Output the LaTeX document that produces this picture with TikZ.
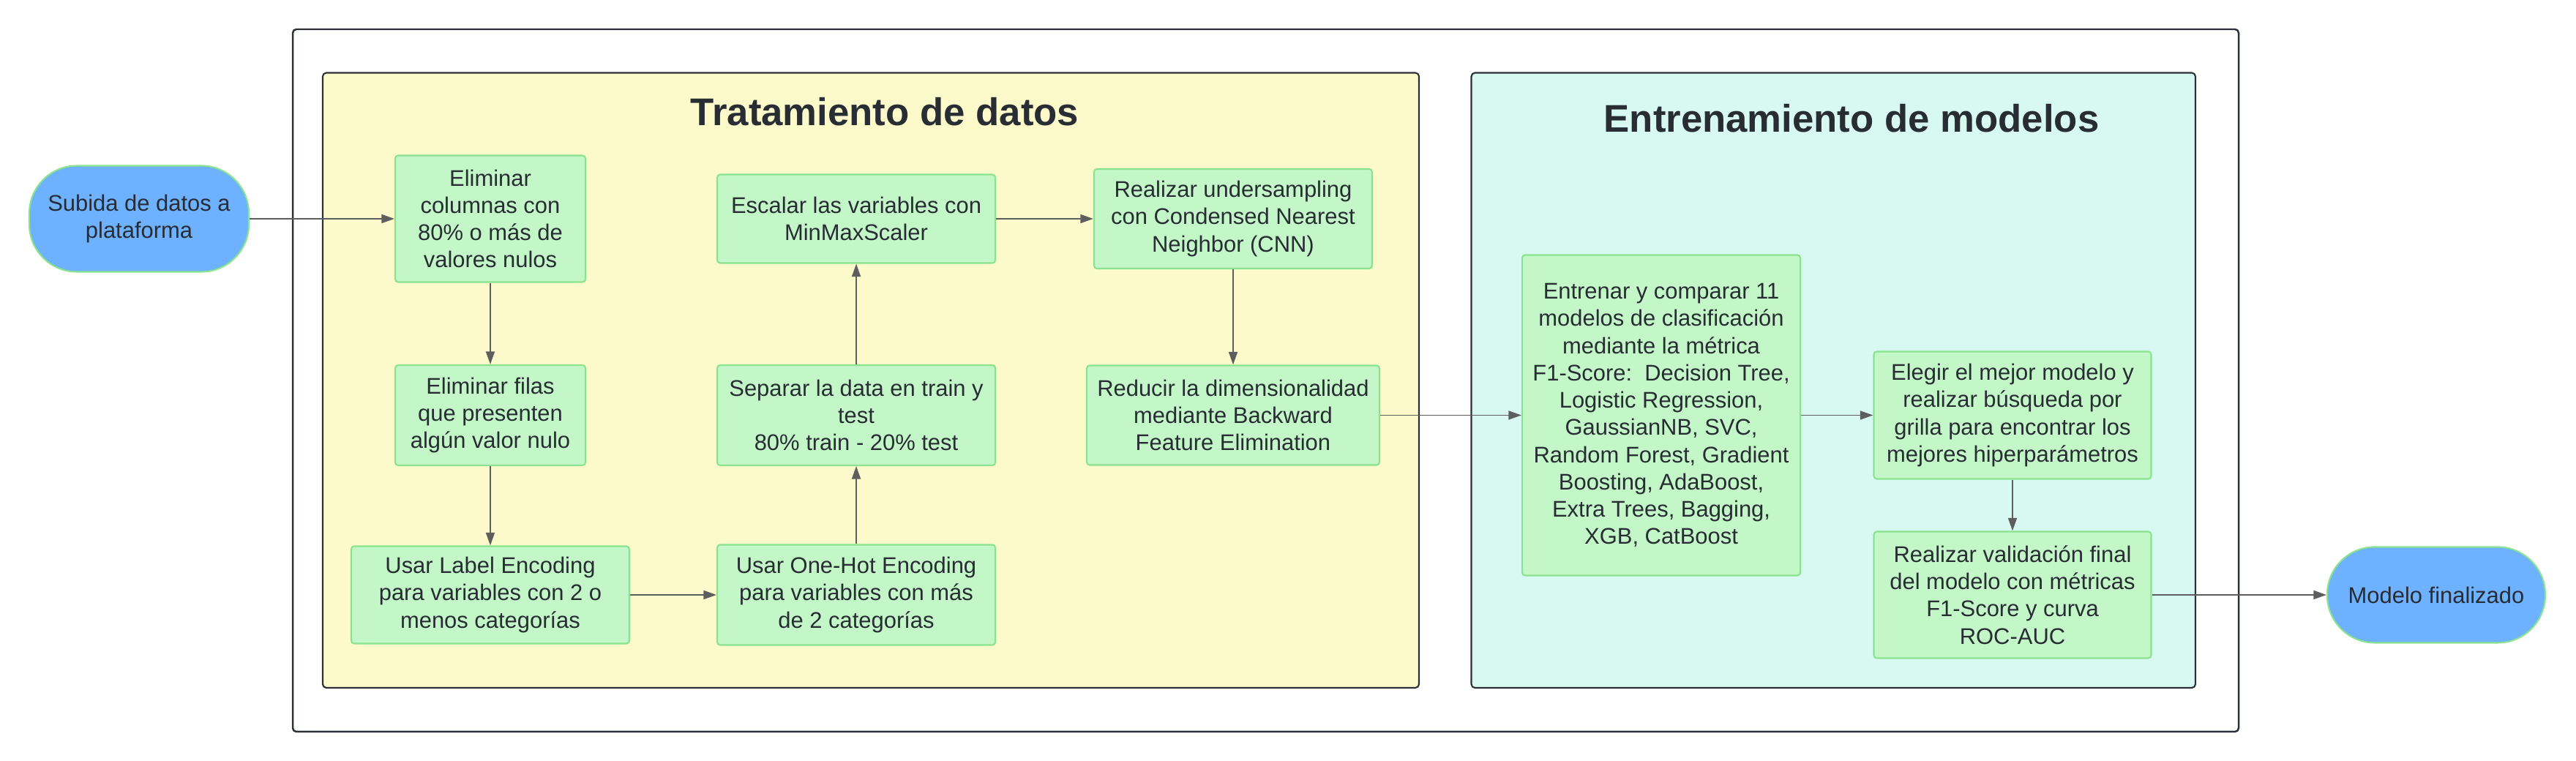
\documentclass[tikz,border=0pt]{standalone}
\usepackage{fontspec}
\setmainfont{Liberation Sans}
\usepackage{tikz}
\usetikzlibrary{calc,arrows.meta}

\definecolor{frameline}{HTML}{2B2F36}
\definecolor{textcol}{HTML}{282C33}
\definecolor{arrowcol}{HTML}{5E5E5E}
\definecolor{boxfill}{HTML}{C3F7C8}
\definecolor{boxline}{HTML}{8AE38F}
\definecolor{termfill}{HTML}{6DB1FF}
\definecolor{datosfill}{HTML}{FCFACA}
\definecolor{modelosfill}{HTML}{D7F9F2}

\newcommand{\boxfont}{\fontsize{8.8}{10.6}\selectfont}
\newcommand{\panelfont}{\fontsize{15}{18}\selectfont\bfseries}

\begin{document}
\begin{tikzpicture}[
    box/.style={draw=boxline, fill=boxfill, line width=0.6pt, rounded corners=0.04cm,
                align=center, text=textcol, font=\boxfont, inner sep=0pt},
    terminal/.style={box, fill=termfill, rounded corners=0.65cm},
    panel/.style={draw=frameline, line width=0.6pt, rounded corners=0.05cm},
    flow/.style={draw=arrowcol, line width=0.55pt, -{Triangle[length=5pt,width=3.4pt]}},
    paneltitle/.style={font=\panelfont, text=textcol, anchor=base}
  ]

    \coordinate (width)  at (35.2cm,0cm);
    \coordinate (height) at (0cm,10.4cm);

    \useasboundingbox (0,0) rectangle (width |- height);

    \path (0,0) -- (height)
    coordinate[pos=0.03846] (frame bottom)
    coordinate[pos=0.09615] (panel bottom)
    coordinate[pos=0.21827] (row 3)
    coordinate[pos=0.45433] (row 2)
    coordinate[pos=0.71250] (row 1)
    coordinate[pos=0.82625] (title 2 base)
    coordinate[pos=0.83490] (title 1 base)
    coordinate[pos=0.90433] (panel top)
    coordinate[pos=0.96154] (frame top);

    \path (0,0) -- (width)
    coordinate[pos=0.05398] (col start)
    coordinate[pos=0.11364] (frame left)
    coordinate[pos=0.12528] (datos left)
    coordinate[pos=0.19034] (col 1)
    coordinate[pos=0.33239] (col 2)
    coordinate[pos=0.34347] (title 1 x)
    coordinate[pos=0.47869] (col 3)
    coordinate[pos=0.55085] (datos right)
    coordinate[pos=0.57116] (modelos left)
    coordinate[pos=0.64489] (col 4)
    coordinate[pos=0.71875] (title 2 x)
    coordinate[pos=0.78125] (col 5)
    coordinate[pos=0.85227] (modelos right)
    coordinate[pos=0.86903] (frame right)
    coordinate[pos=0.94574] (col end);

    \draw[panel, line width=0.7pt] (frame left |- frame bottom) rectangle (frame right |- frame top);
    \draw[panel, fill=datosfill] (datos left |- panel bottom) rectangle (datos right |- panel top);
    \draw[panel, fill=modelosfill] (modelos left |- panel bottom) rectangle (modelos right |- panel top);

    \node[paneltitle] (datos title)   at (title 1 x |- title 1 base) {Tratamiento de datos};
    \node[paneltitle] (modelos title) at (title 2 x |- title 2 base) {Entrenamiento de modelos};

    \node[terminal, minimum width=3.0cm, minimum height=1.45cm] (subida) at (col start |- row 1)
      {Subida de datos a\\plataforma};
    \node[box, minimum width=2.6cm, minimum height=1.73cm] (columnas) at (col 1 |- row 1)
      {Eliminar\\columnas con\\80\% o más de\\valores nulos};
    \node[box, minimum width=2.6cm, minimum height=1.37cm] (filas) at (col 1 |- row 2)
      {Eliminar filas\\que presenten\\algún valor nulo};
    \node[box, minimum width=3.8cm, minimum height=1.33cm] (label) at (col 1 |- row 3)
      {Usar Label Encoding\\para variables con 2 o\\menos categorías};
    \node[box, minimum width=3.8cm, minimum height=1.37cm] (onehot) at (col 2 |- row 3)
      {Usar One-Hot Encoding\\para variables con más\\de 2 categorías};
    \node[box, minimum width=3.8cm, minimum height=1.37cm] (separar) at (col 2 |- row 2)
      {Separar la data en train y\\test\\80\% train - 20\% test};
    \node[box, minimum width=3.8cm, minimum height=1.21cm] (escalar) at (col 2 |- row 1)
      {Escalar las variables con\\MinMaxScaler};
    \node[box, minimum width=3.8cm, minimum height=1.36cm] (cnn) at (col 3 |- row 1)
      {Realizar undersampling\\con Condensed Nearest\\Neighbor (CNN)};
    \node[box, minimum width=4.0cm, minimum height=1.36cm] (reducir) at (col 3 |- row 2)
      {Reducir la dimensionalidad\\mediante Backward\\Feature Elimination};

    \node[box, minimum width=3.8cm, minimum height=4.38cm] (entrenar) at (col 4 |- row 2)
      {Entrenar y comparar 11\\modelos de clasificación\\mediante la métrica\\F1-Score:\ \ Decision Tree,\\Logistic Regression,\\GaussianNB, SVC,\\Random Forest, Gradient\\Boosting, AdaBoost,\\Extra Trees, Bagging,\\XGB, CatBoost};
    \node[box, minimum width=3.79cm, minimum height=1.74cm] (elegir) at (col 5 |- row 2)
      {Elegir el mejor modelo y\\realizar búsqueda por\\grilla para encontrar los\\mejores hiperparámetros};
    \node[box, minimum width=3.79cm, minimum height=1.73cm] (validar) at (col 5 |- row 3)
      {Realizar validación final\\del modelo con métricas\\F1-Score y curva\\ROC-AUC};
    \node[terminal, minimum width=2.98cm, minimum height=1.31cm] (final) at (col end |- row 3)
      {Modelo finalizado};

    \draw[flow] (subida) -- (columnas);
    \draw[flow] (columnas) -- (filas);
    \draw[flow] (filas) -- (label);
    \draw[flow] (label) -- (onehot);
    \draw[flow] (onehot) -- (separar);
    \draw[flow] (separar) -- (escalar);
    \draw[flow] (escalar) -- (cnn);
    \draw[flow] (cnn) -- (reducir);
    \draw[flow] (reducir) -- (entrenar);
    \draw[flow] (entrenar) -- (elegir);
    \draw[flow] (elegir) -- (validar);
    \draw[flow] (validar) -- (final);
  \end{tikzpicture}
\end{document}
